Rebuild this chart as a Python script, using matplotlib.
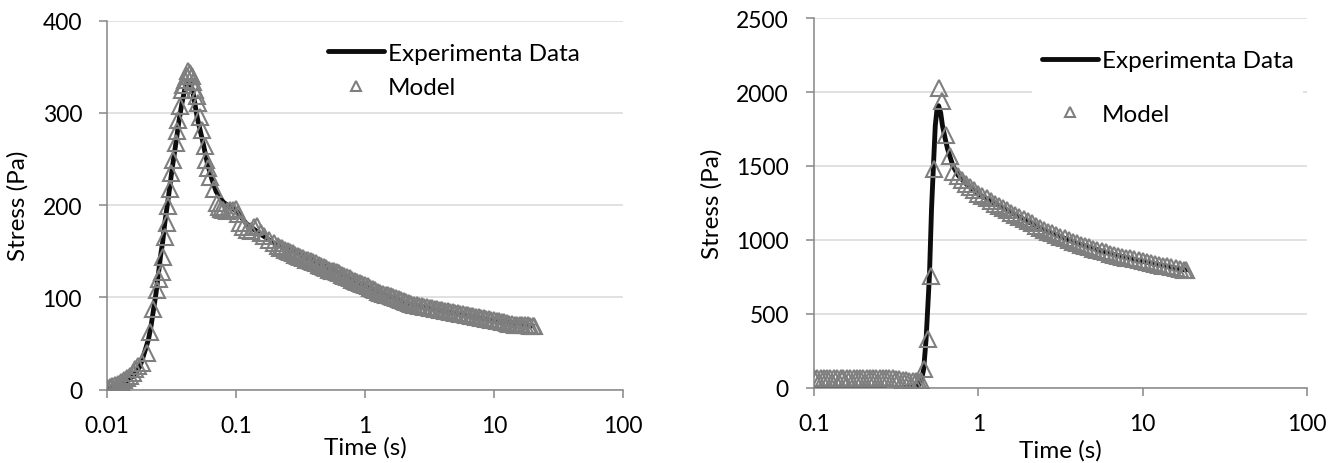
import numpy as np
import matplotlib
matplotlib.use("Agg")
import matplotlib.pyplot as plt
from matplotlib.ticker import FixedLocator, FixedFormatter, NullLocator

plt.rcParams['font.family'] = ['Lato', 'DejaVu Sans']

# ---------- left chart: experiment (line) ----------
left_exp_t = [0.010, 0.012, 0.014, 0.016, 0.018, 0.019, 0.020, 0.021, 0.022, 0.023,
              0.024, 0.025, 0.026, 0.027, 0.028, 0.030, 0.032, 0.034, 0.036, 0.038,
              0.040, 0.042, 0.044, 0.046, 0.048, 0.050, 0.055, 0.060, 0.065, 0.070,
              0.075, 0.080, 0.090, 0.100, 0.120, 0.150, 0.200, 0.300, 0.500, 1.0,
              2.0, 5.0, 10.0, 20.0]
left_exp_v = [0, 3, 8, 15, 25, 35, 45, 55, 70, 88,
              105, 125, 145, 160, 180, 210, 240, 265, 290, 310,
              325, 333, 333, 325, 310, 295, 270, 245, 228, 215,
              208, 203, 198, 194, 180, 170, 158, 148, 133, 113,
              94, 83, 75, 69]

# ---------- left chart: model (triangles) ----------
left_mod_t = [0.0100, 0.0105, 0.0110, 0.0116, 0.0122, 0.0128, 0.0135, 0.0142, 0.0150, 0.0158,
              0.0166, 0.0175, 0.0185, 0.0203, 0.0216, 0.0229, 0.0243, 0.0255, 0.0265, 0.0273,
              0.0282, 0.0290, 0.0296, 0.0308, 0.0316, 0.0327, 0.0342, 0.0350, 0.0358, 0.0366,
              0.0379, 0.0390, 0.0402, 0.0415, 0.0428, 0.0440, 0.0455, 0.0468, 0.0480, 0.0495,
              0.0510, 0.0525, 0.0540, 0.0575, 0.0585, 0.0610, 0.0630, 0.0672, 0.0709, 0.0740,
              0.0770, 0.0799, 0.0850, 0.0900, 0.0955, 0.1000, 0.1030, 0.1070, 0.1140, 0.1212,
              0.1300, 0.1380, 0.1450, 0.1550, 0.1640, 0.1800, 0.1970, 0.2100,
              0.219, 0.229, 0.240, 0.251, 0.263, 0.275, 0.288, 0.302, 0.316, 0.331,
              0.347, 0.363, 0.380, 0.398, 0.417, 0.437, 0.457, 0.479, 0.501, 0.525,
              0.550, 0.575, 0.603, 0.631, 0.661, 0.692, 0.724, 0.759, 0.794, 0.832,
              0.871, 0.912, 0.955, 1.000, 1.047, 1.096, 1.148, 1.202, 1.259, 1.318,
              1.380, 1.445, 1.514, 1.585, 1.660, 1.738, 1.820, 1.905, 1.995, 2.089,
              2.188, 2.291, 2.399, 2.512, 2.630, 2.754, 2.884, 3.020, 3.162, 3.311,
              3.467, 3.631, 3.802, 3.981, 4.169, 4.365, 4.571, 4.786, 5.012, 5.248,
              5.495, 5.754, 6.026, 6.310, 6.607, 6.918, 7.244, 7.586, 7.943, 8.318,
              8.710, 9.120, 9.550, 10.00, 10.47, 10.96, 11.48, 12.02, 12.59, 13.18,
              13.80, 14.45, 15.14, 15.85, 16.60, 17.38, 18.20, 19.05, 19.95, 20.42]
left_mod_v = [2, 3, 4, 5, 6, 8, 10, 12, 15, 18,
              22, 25, 29, 40, 62, 87, 108, 120, 127, 144,
              165, 181, 199, 217, 235, 249, 267, 280, 292, 307,
              325, 330, 336, 340, 345, 343, 340, 333, 325, 318,
              311, 296, 282, 264, 249, 240, 231, 217, 202, 198,
              196, 195, 194, 195, 195, 196, 190, 181, 176, 173,
              172, 176, 177, 170, 166, 162, 159, 156,
              154, 153, 151, 150, 149, 148, 146, 145, 144, 143,
              141, 140, 139, 138, 137, 135, 134, 133, 132, 130,
              129, 128, 127, 126, 124, 123, 122, 121, 119, 118,
              117, 115, 114, 113, 112, 110, 109, 108, 106, 105,
              104, 103, 102, 101, 100, 99, 98, 97, 96, 95,
              94, 93, 92, 91.5, 91, 90.5, 90, 89.5, 88.5, 88,
              87.5, 87, 86.5, 86, 85.5, 85, 84.5, 84, 83.5, 82.5,
              82, 81.5, 81, 80.5, 80, 79.5, 79, 78.5, 78, 77.5,
              76.5, 76, 75.5, 75, 74.5, 74, 73.5, 73, 72.5, 71.5,
              71, 70.5, 70.5, 70, 70, 69.5, 69.5, 69, 69, 69]

# ---------- right chart: experiment (line) ----------
right_exp_t = [0.100, 0.200, 0.300, 0.400, 0.430, 0.450, 0.465, 0.481, 0.504, 0.519,
               0.532, 0.547, 0.560, 0.573, 0.590, 0.605, 0.630, 0.650, 0.700, 0.750,
               0.850, 1.0, 1.5, 2.5, 4.0, 6.3, 10.0, 16.0, 18.4]
right_exp_v = [0, 0, 0, 0, 10, 50, 124, 327, 756, 1208,
               1479, 1773, 1880, 1908, 1860, 1773, 1680, 1615, 1502, 1440,
               1375, 1310, 1200, 1066, 976, 907, 854, 808, 795]

# ---------- right chart: model (triangles) ----------
right_mod_t = [0.100, 0.105, 0.110, 0.115, 0.120, 0.126, 0.132, 0.138, 0.145, 0.151,
               0.158, 0.166, 0.174, 0.182, 0.191, 0.200, 0.209, 0.219, 0.229, 0.240,
               0.251, 0.263, 0.275, 0.288, 0.302, 0.316, 0.331, 0.347, 0.363, 0.380,
               0.398, 0.417, 0.437, 0.447, 0.465, 0.491, 0.515, 0.540, 0.573, 0.605,
               0.640, 0.671, 0.703,
               0.750, 0.794, 0.841, 0.891, 0.944, 1.000, 1.059, 1.122, 1.189, 1.259,
               1.334, 1.413, 1.496, 1.585, 1.679, 1.778, 1.884, 1.995, 2.113, 2.239,
               2.371, 2.512, 2.661, 2.818, 2.985, 3.162, 3.350, 3.548, 3.758, 3.981,
               4.217, 4.467, 4.732, 5.012, 5.309, 5.623, 5.957, 6.310, 6.683, 7.079,
               7.499, 7.943, 8.414, 8.913, 9.441, 10.00, 10.59, 11.22, 11.89, 12.59,
               13.34, 14.13, 14.96, 15.85, 16.79, 17.78, 18.41]
right_mod_v = [65, 65, 65, 65, 65, 65, 65, 65, 65, 65,
               65, 65, 65, 65, 65, 65, 65, 65, 65, 65,
               65, 65, 65, 65, 65, 60, 55, 50, 48, 45,
               45, 42, 40, 45, 124, 327, 756, 1479, 2028, 1942,
               1710, 1570, 1457,
               1430, 1405, 1380, 1357, 1335, 1313, 1298, 1281, 1264, 1245,
               1230, 1215, 1200, 1185, 1170, 1155, 1140, 1126, 1111, 1096,
               1081, 1066, 1054, 1043, 1032, 1021, 1010, 998, 987, 976,
               966, 958, 949, 941, 932, 924, 915, 907, 899, 893,
               886, 880, 874, 867, 861, 854, 848, 843, 837, 831,
               826, 820, 815, 809, 803, 798, 795]

left_yticks = [0, 100, 200, 300, 400]
left_xticks = [0.01, 0.1, 1, 10, 100]
left_xlabels = ['0.01', '0.1', '1', '10', '100']
right_yticks = [0, 500, 1000, 1500, 2000, 2500]
right_xticks = [0.1, 1, 10, 100]
right_xlabels = ['0.1', '1', '10', '100']

AXIS_GRAY = '#868686'
GRID_GRAY = '#d9d9d9'
MARKER_GRAY = '#7f7f7f'
FS = 16.5
FS_LABEL = 17.5

fig = plt.figure(figsize=(13.43, 4.64), dpi=100)
ax1 = fig.add_axes([0.0797, 0.1584, 0.3842, 0.7948])
ax2 = fig.add_axes([0.6061, 0.1627, 0.3671, 0.7957])


def style_axes(ax, xticks, xlabels, yticks, ylabel_x, xlabel_y):
    ax.set_xscale('log')
    ax.set_xlim(xticks[0], xticks[-1])
    ax.set_ylim(yticks[0], yticks[-1])
    ax.xaxis.set_major_locator(FixedLocator(xticks))
    ax.xaxis.set_major_formatter(FixedFormatter(xlabels))
    ax.xaxis.set_minor_locator(NullLocator())
    ax.set_yticks(yticks)
    ax.set_yticklabels([str(v) for v in yticks])
    for s in ['top', 'right']:
        ax.spines[s].set_visible(False)
    for s in ['left', 'bottom']:
        ax.spines[s].set_color(AXIS_GRAY)
        ax.spines[s].set_linewidth(1.1)
    ax.grid(axis='y', color=GRID_GRAY, linewidth=1.1)
    ax.set_axisbelow(True)
    ax.tick_params(axis='both', which='major', length=6, width=1.1, color=AXIS_GRAY,
                   labelsize=FS, labelcolor='black')
    ax.tick_params(axis='y', pad=12)
    ax.tick_params(axis='x', pad=12)
    ax.set_ylabel('Stress (Pa)', fontsize=FS_LABEL)
    ax.set_xlabel('Time (s)', fontsize=FS_LABEL)
    ax.yaxis.set_label_coords(ylabel_x, 0.5)
    ax.xaxis.set_label_coords(0.5, xlabel_y)
    ax.xaxis.label.set_va('center')
    ax.yaxis.label.set_va('center')


for ax, et, ev, mt, mv in [(ax1, left_exp_t, left_exp_v, left_mod_t, left_mod_v),
                           (ax2, right_exp_t, right_exp_v, right_mod_t, right_mod_v)]:
    ax.plot(et, ev, color='#0d0d0d', linewidth=3.5, solid_capstyle='round',
            label='Experimenta Data', zorder=2)
    ax.plot(mt, mv, linestyle='none', marker='^', markersize=11, fillstyle='none',
            markeredgecolor=MARKER_GRAY, markeredgewidth=1.5, label='Model', zorder=3)

style_axes(ax1, left_xticks, left_xlabels, left_yticks, -0.172, -0.155)
style_axes(ax2, right_xticks, right_xlabels, right_yticks, -0.207, -0.168)

leg1 = ax1.legend(loc='upper left', bbox_to_anchor=(0.429, 0.94), fontsize=FS_LABEL,
                  frameon=False, handlelength=2.3, handletextpad=0.15, borderpad=0,
                  borderaxespad=0, labelspacing=0.55, markerscale=0.6)
leg2 = ax2.legend(loc='upper left', bbox_to_anchor=(0.443, 0.94), fontsize=FS_LABEL,
                  frameon=True, facecolor='white', edgecolor='none', framealpha=1,
                  fancybox=False, handlelength=2.3, handletextpad=0.15, borderpad=0.4,
                  borderaxespad=0, labelspacing=1.33, markerscale=0.6)

fig.savefig('out.png', dpi=100)
